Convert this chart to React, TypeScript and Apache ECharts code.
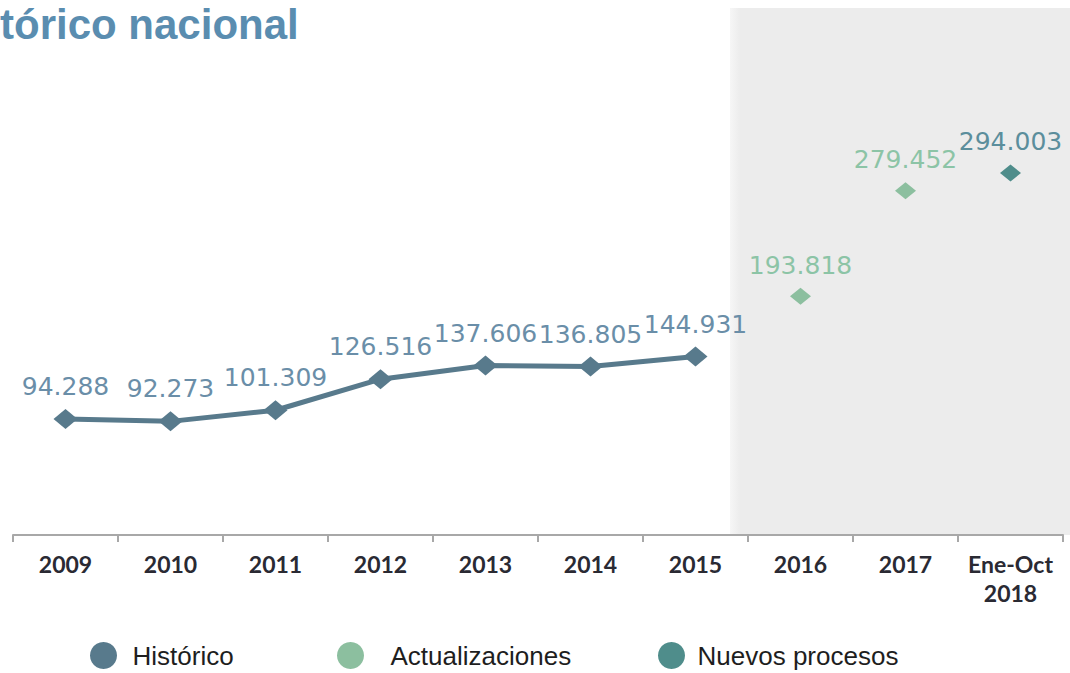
import React, { useEffect, useRef } from "react";
import * as echarts from "echarts";

const categories = ["2009", "2010", "2011", "2012", "2013", "2014", "2015", "2016", "2017", "Ene-Oct\n2018"];
const historico = [94288, 92273, 101309, 126516, 137606, 136805, 144931, "-", "-", "-"];
const actualizaciones = ["-", "-", "-", "-", "-", "-", "-", 193818, 279452, "-"];
const nuevosProcesos = ["-", "-", "-", "-", "-", "-", "-", "-", "-", 294003];
const titleText = "tórico nacional";

const fmt = (v: number) => String(v).replace(/\B(?=(\d{3})+(?!\d))/g, ".");

export default function App() {
  const ref = useRef<HTMLDivElement>(null);
  useEffect(() => {
    if (!ref.current) return;
    const chart = echarts.init(ref.current, null, { renderer: "svg" });
    const labelBase = {
      show: true,
      position: "top",
      distance: 10,
      fontSize: 25,
      fontFamily: "DejaVu Sans",
      formatter: (p: any) => fmt(p.value as number),
    };
    const legendBase = {
      orient: "horizontal",
      top: 642,
      padding: 0,
      icon: "circle",
      itemWidth: 28,
      itemHeight: 27,
      selectedMode: false,
    };
    const legendText = { fontSize: 26, fontFamily: "Liberation Sans", color: "#1e1e1e" };
    chart.setOption({
      animation: false,
      backgroundColor: "#ffffff",
      graphic: [
        {
          type: "rect",
          z: -10,
          silent: true,
          shape: { x: 730, y: 8, width: 340, height: 527 },
          style: {
            fill: new echarts.graphic.LinearGradient(0, 0, 1, 0, [
              { offset: 0, color: "#f6f6f6" },
              { offset: 0.03, color: "#ececec" },
              { offset: 1, color: "#ececec" },
            ]),
          },
        },
        {
          type: "text",
          x: 0,
          y: 24,
          style: {
            text: titleText,
            fontSize: 42,
            fontWeight: "bold",
            fontFamily: "Liberation Sans",
            fill: "#5a8db0",
            verticalAlign: "middle",
            align: "left",
          },
        },
      ],
      grid: { left: 13, right: 7, top: 104, bottom: 138 },
      xAxis: {
        type: "category",
        data: categories,
        boundaryGap: true,
        axisLine: { show: true, lineStyle: { color: "#a8a8a8", width: 2 } },
        axisTick: { show: true, length: 7, lineStyle: { color: "#a8a8a8", width: 2 } },
        axisLabel: {
          margin: 14,
          fontSize: 23,
          fontWeight: "bold",
          fontFamily: "Lato",
          color: "#2a2a33",
          lineHeight: 29,
          interval: 0,
        },
        splitLine: { show: false },
      },
      yAxis: {
        type: "value",
        min: 0,
        max: 350000,
        show: false,
        splitLine: { show: false },
      },
      legend: [
        {
          ...legendBase,
          left: 90,
          data: ["Histórico"],
          textStyle: { ...legendText, padding: [0, 0, 0, 10] },
        },
        {
          ...legendBase,
          left: 337,
          data: ["Actualizaciones"],
          textStyle: { ...legendText, padding: [0, 0, 0, 21] },
        },
        {
          ...legendBase,
          left: 658,
          data: ["Nuevos procesos"],
          textStyle: { ...legendText, padding: [0, 0, 0, 7] },
        },
      ],
      series: [
        {
          name: "Histórico",
          type: "line",
          data: historico,
          symbol: "diamond",
          symbolSize: [24, 20],
          lineStyle: { width: 5, color: "#587a8c" },
          itemStyle: { color: "#587a8c" },
          label: { ...labelBase, color: "#6a8ea8" },
          z: 3,
        },
        {
          name: "Actualizaciones",
          type: "scatter",
          data: actualizaciones,
          symbol: "diamond",
          symbolSize: [21, 17],
          itemStyle: { color: "#8cbf9f", opacity: 1 },
          label: { ...labelBase, color: "#8cc4a6" },
          z: 3,
        },
        {
          name: "Nuevos procesos",
          type: "scatter",
          data: nuevosProcesos,
          symbol: "diamond",
          symbolSize: [21, 17],
          itemStyle: { color: "#4f8d8b", opacity: 1 },
          label: { ...labelBase, color: "#5b8e9c" },
          z: 3,
        },
      ],
    });
    return () => chart.dispose();
  }, []);
  return <div ref={ref} style={{ position: "fixed", left: 0, top: 0, width: 1070, height: 673 }} />;
}
